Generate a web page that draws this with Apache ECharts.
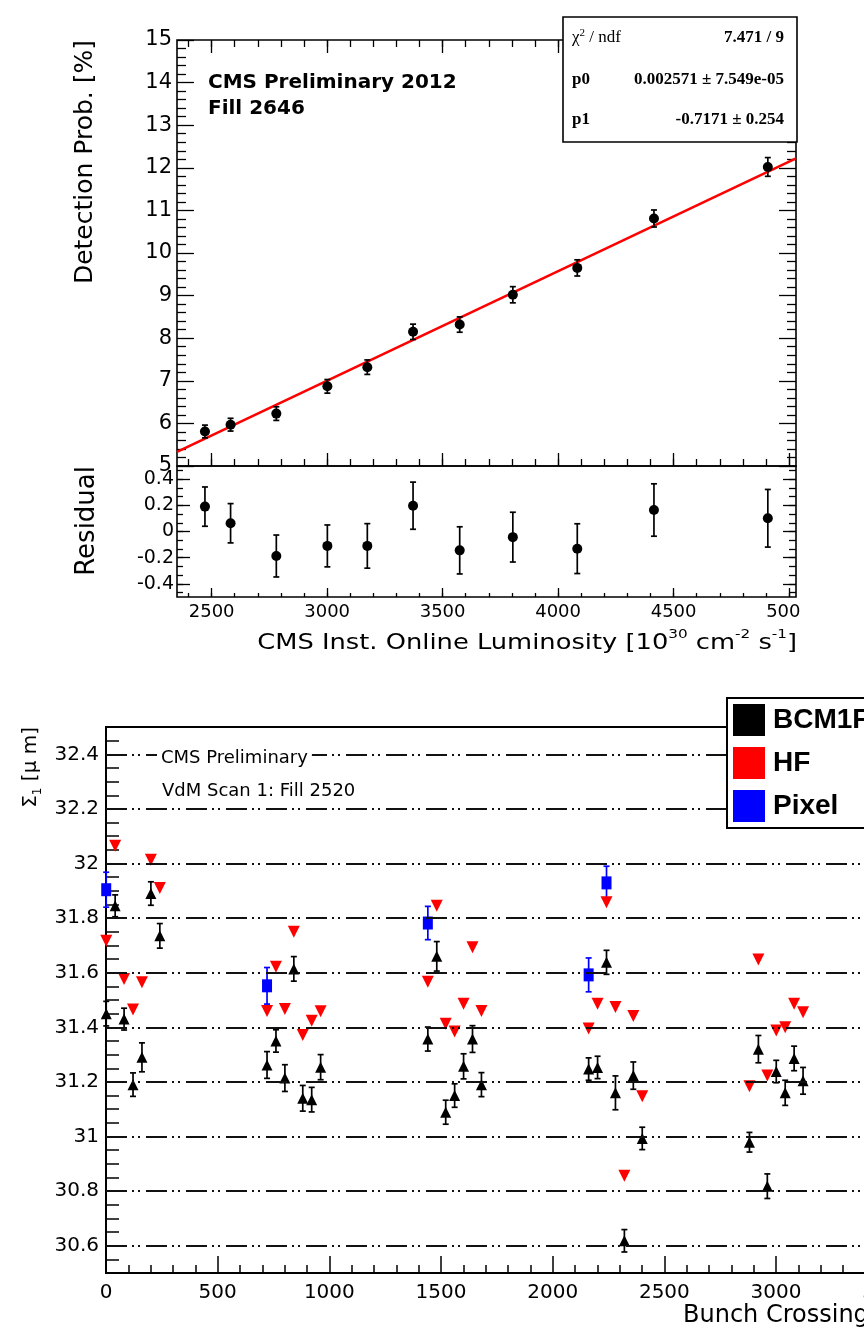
<!DOCTYPE html>
<html>
<head>
<meta charset="utf-8">
<title>BCM1F detection probability and beam overlap width</title>
<script src="https://cdn.jsdelivr.net/npm/echarts@6.0.0/dist/echarts.min.js"></script>
<style>
    html, body { margin: 0; padding: 0; background: #fff; width: 864px; height: 1330px; overflow: hidden; }
    #detProbChart { position: absolute; left: 0; top: 0; width: 801px; height: 670px; }
    #sigmaChart { position: absolute; left: 0; top: 670px; width: 940px; height: 660px; }
</style>
</head>
<body>
<div id="detProbChart"></div>
<div id="sigmaChart"></div>
<script>
//------------------------------------------------------------------------------- data, fill 2646
var lumi = [2471, 2582, 2780, 3001, 3174, 3372, 3574, 3804, 4083, 4415, 4908];
var detProb = [5.81, 5.97, 6.23, 6.87, 7.32, 8.15, 8.32, 9.02, 9.65, 10.81, 12.02];
var detErr = [0.15, 0.15, 0.16, 0.16, 0.17, 0.18, 0.18, 0.19, 0.19, 0.2, 0.22];
var residual = [0.19, 0.063, -0.187, -0.11, -0.11, 0.197, -0.144, -0.043, -0.131, 0.164, 0.101];
var fitLumi = [2350, 5030];
var fitProb = [5.33, 12.22];
var lumiTicks = [2500, 3000, 3500, 4000, 4500, 5000];
var residualTicks = [-0.4, -0.2, 0, 0.2, 0.4];

//------------------------------------------------------------------------------- data, fill 2520
var bunchX = [1, 41, 81, 121, 161, 201, 241,
    721, 761, 801, 841, 881, 921, 961,
    1441, 1481, 1521, 1561, 1601, 1641, 1681,
    2161, 2201, 2241, 2281, 2321, 2361, 2401,
    2881, 2921, 2961, 3001, 3041, 3081, 3121];
var bcmSigma = [31.45, 31.845, 31.43, 31.19, 31.29, 31.89, 31.735,
    31.262, 31.35, 31.214, 31.614, 31.14, 31.135, 31.254,
    31.357, 31.66, 31.089, 31.15, 31.257, 31.357, 31.19,
    31.247, 31.253, 31.638, 31.16, 30.618, 31.223, 30.993,
    30.979, 31.32, 30.818, 31.238, 31.16, 31.286, 31.204];
var bcmErr = [0.045, 0.04, 0.04, 0.043, 0.053, 0.043, 0.045,
    0.049, 0.041, 0.049, 0.045, 0.047, 0.045, 0.046,
    0.044, 0.054, 0.044, 0.043, 0.046, 0.049, 0.044,
    0.041, 0.041, 0.044, 0.062, 0.041, 0.05, 0.041,
    0.036, 0.05, 0.045, 0.041, 0.046, 0.045, 0.049];
var hfSigma = [31.717, 32.065, 31.577, 31.465, 31.565, 32.014, 31.91,
    31.46, 31.622, 31.467, 31.75, 31.372, 31.424, 31.459,
    31.567, 31.845, 31.413, 31.385, 31.486, 31.693, 31.46,
    31.396, 31.486, 31.858, 31.474, 30.856, 31.441, 31.147,
    31.184, 31.648, 31.223, 31.388, 31.4, 31.486, 31.455];
var pixelX = [1, 721, 1441, 2161, 2241];
var pixelSigma = [31.904, 31.552, 31.782, 31.592, 31.929];
var pixelErr = [0.064, 0.067, 0.061, 0.062, 0.061];
var sigmaTicks = [30.6, 30.8, 31, 31.2, 31.4, 31.6, 31.8, 32, 32.2, 32.4];

//------------------------------------------------------------------------------- helpers
var font = 'DejaVu Sans';

function steps(from, to, step) {
    var out = [];
    for (var v = from; v <= to + 1e-9; v += step) { out.push(+v.toFixed(4)); }
    return out;
}
function pairs(xs, ys) {
    return xs.map(function (x, i) { return [x, ys[i]]; });
}
function bars(xs, ys, es) {
    return xs.map(function (x, i) { return [x, ys[i] - es[i], ys[i] + es[i]]; });
}
function plain(v) { return String(v); }
function errorBar(color, cap) {
    return function (params, api) {
        var hi = api.coord([api.value(0), api.value(2)]);
        var lo = api.coord([api.value(0), api.value(1)]);
        var s = { stroke: color, lineWidth: 1.7 };
        return {
            type: 'group',
            children: [
                { type: 'line', shape: { x1: hi[0], y1: hi[1], x2: lo[0], y2: lo[1] }, style: s },
                { type: 'line', shape: { x1: hi[0] - cap, y1: hi[1], x2: hi[0] + cap, y2: hi[1] }, style: s },
                { type: 'line', shape: { x1: lo[0] - cap, y1: lo[1], x2: lo[0] + cap, y2: lo[1] }, style: s }
            ]
        };
    };
}
// axis that only draws ticks (and labels if asked), ROOT style: ticks inside
function tickAxis(o) {
    return {
        type: 'value',
        gridIndex: o.grid,
        position: o.pos,
        min: o.min,
        max: o.max,
        axisLine: { show: false, onZero: false },
        splitLine: { show: false },
        axisTick: { inside: true, length: o.len, customValues: o.ticks, lineStyle: { color: '#000', width: 1.3 } },
        axisLabel: {
            show: !!o.labels, customValues: o.labels || o.ticks, margin: o.margin || 6, formatter: plain,
            color: '#000', fontFamily: font, fontSize: o.fontSize || 18
        }
    };
}

var lumiMinor = steps(2400, 5000, 100);
var residualMinor = steps(-7, 7, 1).map(function (k) { return k / 15; });
var sigmaMinor = steps(30.55, 32.45, 0.05);

//------------------------------------------------------------------------------- A: detection probability
var lumMin = 2350, lumMax = 5030;
var resMin = -0.5, resMax = 0.5;
var frame = { show: true, borderColor: '#000', borderWidth: 1.6, backgroundColor: 'transparent', outerBoundsMode: 'none' };

var chartOptionA = {
    animation: false,
    grid: [
        Object.assign({ left: 177, top: 40, width: 619, height: 426 }, frame),
        Object.assign({ left: 177, top: 466, width: 619, height: 131 }, frame)
    ],
    xAxis: [
        tickAxis({ grid: 0, pos: 'bottom', min: lumMin, max: lumMax, ticks: lumiTicks, len: 13 }),
        tickAxis({ grid: 0, pos: 'bottom', min: lumMin, max: lumMax, ticks: lumiMinor, len: 7 }),
        tickAxis({ grid: 0, pos: 'top', min: lumMin, max: lumMax, ticks: lumiTicks, len: 13 }),
        tickAxis({ grid: 0, pos: 'top', min: lumMin, max: lumMax, ticks: lumiMinor, len: 7 }),
        tickAxis({ grid: 1, pos: 'bottom', min: lumMin, max: lumMax, ticks: lumiTicks, len: 9, labels: lumiTicks, margin: 6, fontSize: 18 }),
        tickAxis({ grid: 1, pos: 'bottom', min: lumMin, max: lumMax, ticks: lumiMinor, len: 4 })
    ],
    yAxis: [
        {
            type: 'value', gridIndex: 0, position: 'left', min: 5, max: 15, interval: 1,
            axisLine: { show: false, onZero: false }, splitLine: { show: false },
            axisTick: { inside: true, length: 17, lineStyle: { color: '#000', width: 1.3 } },
            minorTick: { show: true, splitNumber: 5, length: 9, lineStyle: { color: '#000', width: 1.3 } },
            axisLabel: { margin: 5, color: '#000', fontFamily: font, fontSize: 21, formatter: plain }
        },
        {
            type: 'value', gridIndex: 0, position: 'right', min: 5, max: 15, interval: 1,
            axisLine: { show: false, onZero: false }, splitLine: { show: false },
            axisTick: { inside: true, length: 17, lineStyle: { color: '#000', width: 1.3 } },
            minorTick: { show: true, splitNumber: 5, length: 9, lineStyle: { color: '#000', width: 1.3 } },
            axisLabel: { show: false }
        },
        tickAxis({ grid: 1, pos: 'left', min: resMin, max: resMax, ticks: residualTicks, len: 13, labels: residualTicks, margin: 3, fontSize: 19 }),
        tickAxis({ grid: 1, pos: 'left', min: resMin, max: resMax, ticks: residualMinor, len: 6 }),
        tickAxis({ grid: 1, pos: 'right', min: resMin, max: resMax, ticks: residualTicks, len: 13 }),
        tickAxis({ grid: 1, pos: 'right', min: resMin, max: resMax, ticks: residualMinor, len: 7 })
    ],
    series: [
        {
            type: 'line', xAxisIndex: 0, yAxisIndex: 0, data: pairs(fitLumi, fitProb),
            showSymbol: false, lineStyle: { color: '#ff0000', width: 2.6 }, z: 2
        },
        {
            type: 'custom', xAxisIndex: 0, yAxisIndex: 0, renderItem: errorBar('#000', 3),
            encode: { x: 0, y: [1, 2] }, data: bars(lumi, detProb, detErr), z: 3
        },
        {
            type: 'scatter', xAxisIndex: 0, yAxisIndex: 0, symbol: 'circle', symbolSize: 10,
            itemStyle: { color: '#000', opacity: 1 }, data: pairs(lumi, detProb), z: 4
        },
        {
            type: 'custom', xAxisIndex: 4, yAxisIndex: 2, renderItem: errorBar('#000', 3),
            encode: { x: 0, y: [1, 2] }, data: bars(lumi, residual, detErr), z: 3
        },
        {
            type: 'scatter', xAxisIndex: 4, yAxisIndex: 2, symbol: 'circle', symbolSize: 10,
            itemStyle: { color: '#000', opacity: 1 }, data: pairs(lumi, residual), z: 4
        }
    ],
    graphic: [
        {
            type: 'text', left: 208, top: 70, z: 100,
            style: { text: 'CMS Preliminary 2012\nFill 2646', font: 'bold 20px "DejaVu Sans"', lineHeight: 26, fill: '#000' }
        },
        {
            type: 'text', x: 85, y: 40, rotation: Math.PI / 2, z: 100,
            style: { text: 'Detection Prob. [%]', font: '25px "DejaVu Sans"', fill: '#000',
                align: 'right', verticalAlign: 'middle', textAlign: 'right', textVerticalAlign: 'middle' }
        },
        {
            type: 'text', x: 87, y: 466, rotation: Math.PI / 2, z: 100,
            style: { text: 'Residual', font: '26px "DejaVu Sans"', fill: '#000',
                align: 'right', verticalAlign: 'middle', textAlign: 'right', textVerticalAlign: 'middle' }
        },
        {
            type: 'text', x: 797, y: 643, scaleX: 1.17, z: 100,
            style: {
                text: '{n|CMS Inst. Online Luminosity [10}{s|30}{n| cm}{s|-2}{n| s}{s|-1}{n|]}',
                align: 'right', verticalAlign: 'middle', textAlign: 'right', textVerticalAlign: 'middle',
                rich: {
                    n: { fontFamily: font, fontSize: 22, lineHeight: 30, fill: '#000', color: '#000' },
                    s: { fontFamily: font, fontSize: 13, lineHeight: 30, verticalAlign: 'top', fill: '#000', color: '#000' }
                }
            }
        },
        // fit statistics box
        {
            type: 'rect', z: 100, shape: { x: 563, y: 17, width: 234, height: 125 },
            style: { fill: '#fff', stroke: '#000', lineWidth: 1.6 }
        },
        {
            type: 'text', x: 572, y: 38, z: 101,
            style: {
                text: '{a|χ}{s|2}{a| / ndf}', verticalAlign: 'middle', textVerticalAlign: 'middle',
                rich: {
                    a: { fontFamily: 'Liberation Serif', fontSize: 17, lineHeight: 20, fill: '#000', color: '#000' },
                    s: { fontFamily: 'Liberation Serif', fontSize: 11, lineHeight: 20, verticalAlign: 'top', fill: '#000', color: '#000' }
                }
            }
        },
        { type: 'text', x: 572, y: 80, z: 101, style: { text: 'p0', font: 'bold 17px "Liberation Serif"', fill: '#000', verticalAlign: 'middle', textVerticalAlign: 'middle' } },
        { type: 'text', x: 572, y: 120, z: 101, style: { text: 'p1', font: 'bold 17px "Liberation Serif"', fill: '#000', verticalAlign: 'middle', textVerticalAlign: 'middle' } },
        { type: 'text', x: 784, y: 38, z: 101, style: { text: '7.471 / 9', font: 'bold 17px "Liberation Serif"', fill: '#000', align: 'right', textAlign: 'right', verticalAlign: 'middle', textVerticalAlign: 'middle' } },
        { type: 'text', x: 784, y: 80, z: 101, style: { text: '0.002571 ± 7.549e-05', font: 'bold 17px "Liberation Serif"', fill: '#000', align: 'right', textAlign: 'right', verticalAlign: 'middle', textVerticalAlign: 'middle' } },
        { type: 'text', x: 784, y: 120, z: 101, style: { text: '-0.7171 ± 0.254', font: 'bold 17px "Liberation Serif"', fill: '#000', align: 'right', textAlign: 'right', verticalAlign: 'middle', textVerticalAlign: 'middle' } }
    ]
};

//------------------------------------------------------------------------------- B: sigma per bunch crossing
var gridDash = [21, 5, 2, 4, 2, 6];

var chartOptionB = {
    animation: false,
    grid: Object.assign({ left: 106, top: 57, width: 796, height: 546 }, frame, { borderWidth: 2 }),
    legend: {
        orient: 'vertical', left: 727, top: 28, padding: [6, 60, 6, 6],
        itemWidth: 32, itemHeight: 32, itemGap: 11, selectedMode: false,
        backgroundColor: '#fff', borderColor: '#000', borderWidth: 2, z: 20,
        textStyle: { fontFamily: 'Liberation Sans', fontWeight: 'bold', fontSize: 28, color: '#000', padding: [0, 0, 0, 3] },
        data: [
            { name: 'BCM1F', icon: 'rect' },
            { name: 'HF', icon: 'rect' },
            { name: 'Pixel', icon: 'rect' }
        ]
    },
    xAxis: {
        type: 'value', min: 0, max: 3564, interval: 500,
        axisLine: { show: false, onZero: false }, splitLine: { show: false },
        axisTick: { inside: true, length: 17, lineStyle: { color: '#000', width: 1.5 } },
        minorTick: { show: true, splitNumber: 5, length: 8, lineStyle: { color: '#000', width: 1.5 } },
        axisLabel: { showMaxLabel: false, margin: 10, color: '#000', fontFamily: font, fontSize: 20, formatter: plain }
    },
    yAxis: {
        type: 'value', min: 30.5, max: 32.5,
        axisLine: { show: false, onZero: false }, splitLine: { show: false },
        axisTick: { inside: true, length: 13, customValues: sigmaMinor, lineStyle: { color: '#000', width: 1.5 } },
        axisLabel: { customValues: sigmaTicks, margin: 7, color: '#000', fontFamily: font, fontSize: 20, formatter: plain }
    },
    series: [
        {
            name: 'gridlines', type: 'scatter', data: [], z: 1, silent: true,
            markLine: {
                silent: true, symbol: ['none', 'none'], label: { show: false },
                lineStyle: { color: '#111', width: 2.2, type: gridDash },
                data: sigmaTicks.map(function (v) { return { yAxis: v }; })
            }
        },
        {
            name: 'BCM1F err', type: 'custom', renderItem: errorBar('#000', 3),
            encode: { x: 0, y: [1, 2] }, data: bars(bunchX, bcmSigma, bcmErr), z: 3
        },
        {
            name: 'BCM1F', type: 'scatter', symbol: 'triangle', symbolSize: 11,
            itemStyle: { color: '#000', opacity: 1 }, data: pairs(bunchX, bcmSigma), z: 4
        },
        {
            name: 'HF', type: 'scatter', symbol: 'triangle', symbolRotate: 180, symbolSize: 12,
            itemStyle: { color: '#ff0000', opacity: 1 }, data: pairs(bunchX, hfSigma), z: 4
        },
        {
            name: 'Pixel err', type: 'custom', renderItem: errorBar('#0000ff', 3),
            encode: { x: 0, y: [1, 2] }, data: bars(pixelX, pixelSigma, pixelErr), z: 3
        },
        {
            name: 'Pixel', type: 'scatter', symbol: 'rect', symbolSize: [10, 13],
            itemStyle: { color: '#0000ff', opacity: 1 }, data: pairs(pixelX, pixelSigma), z: 4
        }
    ],
    graphic: [
        {
            type: 'text', left: 157, top: 77, z: 100,
            style: { text: 'CMS Preliminary', font: '18px "DejaVu Sans"', fill: '#000',
                backgroundColor: '#fff', padding: [2, 4, 2, 4] }
        },
        {
            type: 'text', left: 162, top: 112, z: 100,
            style: { text: 'VdM Scan 1: Fill 2520', font: '18px "DejaVu Sans"', fill: '#000' }
        },
        {
            type: 'text', x: 31, y: 57, rotation: Math.PI / 2, z: 100,
            style: {
                text: '{a|Σ}{b|1}{a| [μ m]}',
                align: 'right', verticalAlign: 'middle', textAlign: 'right', textVerticalAlign: 'middle',
                rich: {
                    a: { fontFamily: font, fontSize: 20, lineHeight: 26, fill: '#000', color: '#000' },
                    b: { fontFamily: font, fontSize: 12, lineHeight: 26, verticalAlign: 'bottom', fill: '#000', color: '#000' }
                }
            }
        },
        {
            type: 'text', left: 683, top: 634, z: 100,
            style: { text: 'Bunch Crossing', font: '24px "DejaVu Sans"', fill: '#000' }
        }
    ]
};

var detProbChart = echarts.init(document.getElementById('detProbChart'));
detProbChart.setOption(chartOptionA);
var sigmaChart = echarts.init(document.getElementById('sigmaChart'));
sigmaChart.setOption(chartOptionB);
</script>
</body>
</html>
